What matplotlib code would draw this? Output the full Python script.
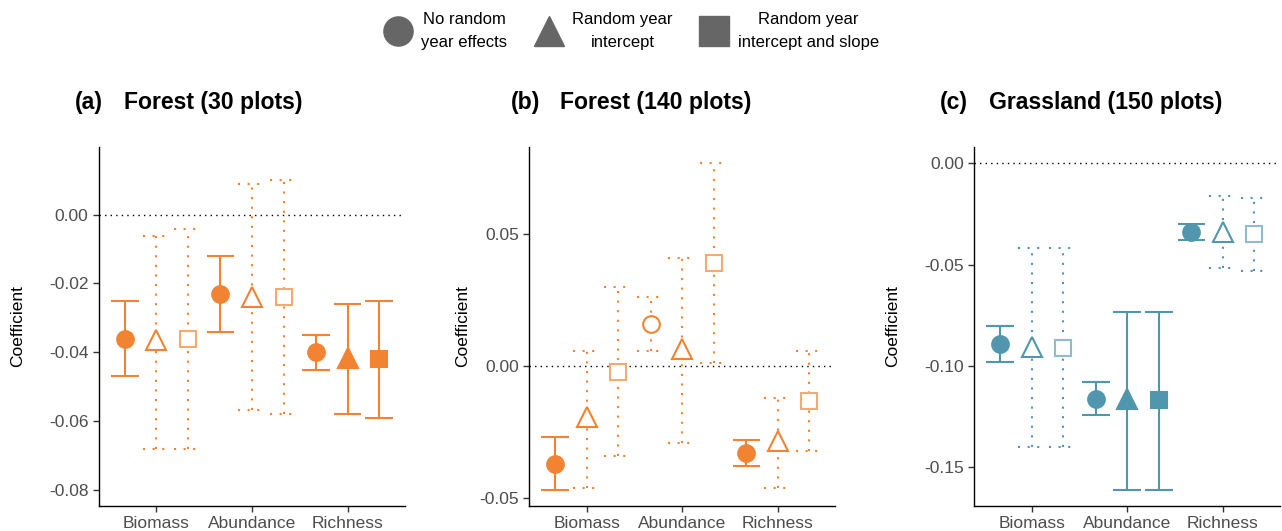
import numpy as np
import matplotlib
matplotlib.use("Agg")
import matplotlib.pyplot as plt
from matplotlib.lines import Line2D
from matplotlib.ticker import FormatStrFormatter

plt.rcParams['font.family'] = ['Liberation Sans', 'DejaVu Sans']

categories = ["Biomass", "Abundance", "Richness"]
models = ["No random\nyear effects", "Random year\nintercept", "Random year\nintercept and slope"]
shapes = ["o", "^", "s"]

# rows = category, columns = model
a_est = [[-0.036, -0.0365, -0.036], [-0.023, -0.0238, -0.024], [-0.040, -0.0415, -0.042]]
a_lo = [[-0.047, -0.068, -0.068], [-0.034, -0.0568, -0.058], [-0.045, -0.058, -0.059]]
a_hi = [[-0.025, -0.0061, -0.0041], [-0.012, 0.009, 0.010], [-0.0349, -0.026, -0.025]]
a_solid = [[1, 0, 0], [1, 0, 0], [1, 1, 1]]

b_est = [[-0.037, -0.0192, -0.0021], [0.016, 0.0063, 0.0389], [-0.0331, -0.0283, -0.0131]]
b_lo = [[-0.047, -0.0461, -0.034], [0.0059, -0.029, 0.0013], [-0.0379, -0.0461, -0.0321]]
b_hi = [[-0.0268, 0.0059, 0.030], [0.026, 0.0409, 0.0768], [-0.028, -0.012, 0.0059]]
b_solid = [[1, 0, 0], [0, 0, 0], [1, 0, 0]]

c_est = [[-0.0889, -0.0904, -0.091], [-0.116, -0.116, -0.1166], [-0.0338, -0.034, -0.0351]]
c_lo = [[-0.0981, -0.140, -0.140], [-0.1239, -0.161, -0.161], [-0.0379, -0.0518, -0.053]]
c_hi = [[-0.0801, -0.0418, -0.0418], [-0.1079, -0.0732, -0.0732], [-0.0302, -0.0161, -0.0171]]
c_solid = [[1, 0, 0], [1, 1, 1], [1, 0, 0]]

titles = [("(a)", "Forest (30 plots)"), ("(b)", "Forest (140 plots)"), ("(c)", "Grassland (150 plots)")]
yticks = [[-0.08, -0.06, -0.04, -0.02, 0.00], [-0.05, 0.00, 0.05], [-0.15, -0.10, -0.05, 0.00]]
ylims = [(-0.0846, 0.0196), (-0.053, 0.083), (-0.169, 0.008)]

orange, orange_light = "#F28332", "#F6AA70"
teal, teal_light = "#5096AC", "#8FBCCB"
panel_cols = [(orange, orange_light), (orange, orange_light), (teal, teal_light)]
panels = [(a_est, a_lo, a_hi, a_solid), (b_est, b_lo, b_hi, b_solid), (c_est, c_lo, c_hi, c_solid)]

W, H = 1282, 531
fig = plt.figure(figsize=(W / 100, H / 100), dpi=100)

ax_left = [99, 529.3, 974.3]
ax_w = 306
ax_top, ax_bot = 147, 506
title_x = [75, 511, 940]
ylab_x = [25, 470, 900]

offsets = [-0.33, 0.0, 0.33]
cap = 0.145
msizes = {"o": 12, "^": 14, "s": 11.5}
dots = (0, (1, 3.6))

for i, (est, lo, hi, solid) in enumerate(panels):
    ax = fig.add_axes([ax_left[i] / W, (H - ax_bot) / H, ax_w / W, (ax_bot - ax_top) / H])
    col, col_light = panel_cols[i]
    ax.axhline(0, color="black", lw=1, ls=(0, (1, 3)), zorder=1)
    for ci in range(3):
        for mi in range(3):
            x = ci + 1 + offsets[mi]
            filled = solid[ci][mi] == 1
            ls = "-" if filled else dots
            c = col if (filled or mi < 2) else col_light
            ax.vlines(x, lo[ci][mi], hi[ci][mi], colors=col, lw=1.5, linestyles=ls, zorder=2)
            ax.hlines([lo[ci][mi], hi[ci][mi]], x - cap, x + cap, colors=col, lw=1.5,
                      linestyles=ls, zorder=2)
            ax.plot(x, est[ci][mi], marker=shapes[mi], ms=msizes[shapes[mi]],
                    mfc=c if filled else "white", mec=c, mew=1.5, ls="none", zorder=3)
    ax.set_xlim(0.4, 3.6)
    ax.set_ylim(*ylims[i])
    ax.set_xticks([1, 2, 3])
    ax.set_xticklabels(categories)
    ax.set_yticks(yticks[i])
    ax.yaxis.set_major_formatter(FormatStrFormatter("%.2f"))
    ax.tick_params(labelsize=12.5, labelcolor="#4D4D4D", color="#333333", length=4, width=1)
    for s in ["top", "right"]:
        ax.spines[s].set_visible(False)
    for s in ["left", "bottom"]:
        ax.spines[s].set_linewidth(1)
    ax.set_ylabel("Coefficient", fontsize=12.5)
    ax.yaxis.set_label_coords(-(ax_left[i] - ylab_x[i]) / ax_w, 0.5)
    fig.text(title_x[i] / W, 1 - 103 / H, titles[i][0], fontsize=16.6, fontweight="bold",
             ha="left", va="center")
    fig.text((title_x[i] + 49) / W, 1 - 103 / H, titles[i][1], fontsize=16.6, fontweight="bold",
             ha="left", va="center")

handles = [Line2D([], [], marker=m, ls="none", color="#666666", ms=21) for m in shapes]
leg = fig.legend(handles, models, loc="upper center", bbox_to_anchor=(630 / W, 1.0), ncol=3,
                 frameon=False, fontsize=12, handletextpad=0.4, columnspacing=1.5,
                 borderaxespad=0.3)
for t in leg.get_texts():
    t.set_multialignment("center")
    t.set_linespacing(1.7)

fig.savefig("out.png", dpi=100)
